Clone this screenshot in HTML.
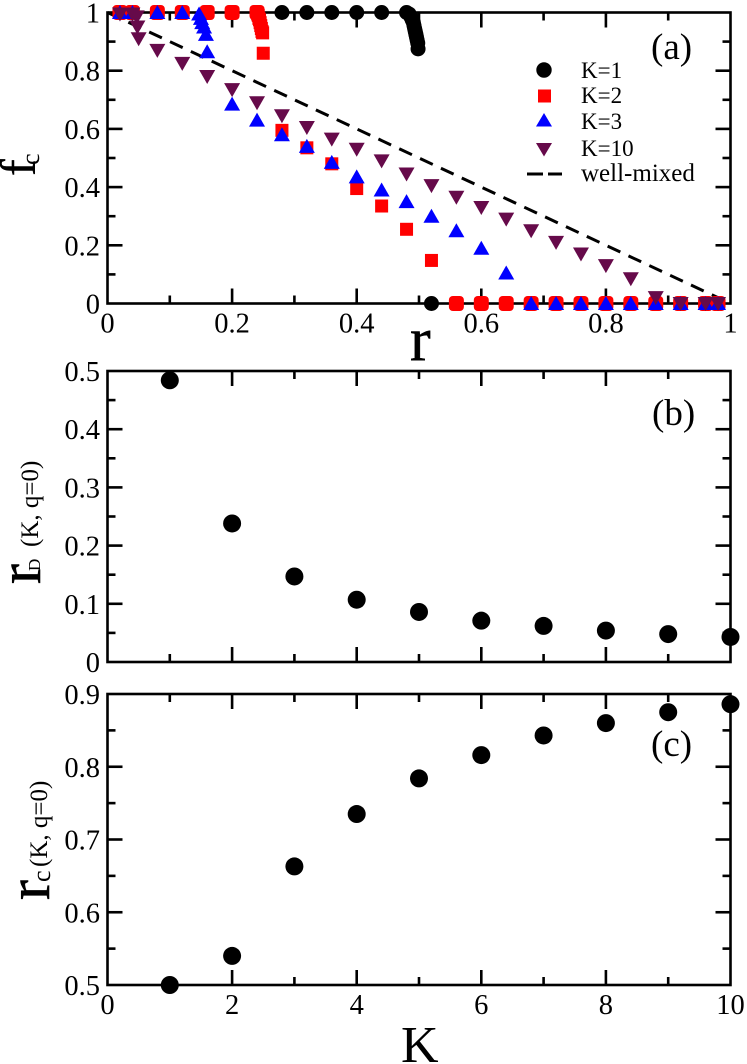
<!DOCTYPE html>
<html>
<head>
<meta charset="utf-8">
<title>Three panel chart</title>
<style>
html,body{margin:0;padding:0;background:#fff;width:747px;height:1064px;overflow:hidden}
svg{display:block}
text{font-family:"Liberation Serif",serif;fill:#000}
</style>
</head>
<body>
<svg id="chart" width="747" height="1064" viewBox="0 0 747 1064" xmlns="http://www.w3.org/2000/svg">
  <g id="frames"></g>
  <g id="marks"></g>

  <text x="651" y="59" font-size="37">(a)</text>
  <text x="652" y="425" font-size="37">(b)</text>
  <text x="651" y="756" font-size="37">(c)</text>

  <g>
    <circle cx="544" cy="70" r="7.7" fill="#000"/>
    <rect x="538" y="89.5" width="13" height="13" fill="#ff0000"/>
    <polygon points="544,113 552,126.5 536,126.5" fill="#0000ff"/>
    <polygon points="536,143 552,143 544,156.5" fill="#660a4a"/>
    <line x1="527" y1="174" x2="562" y2="174" stroke="#000" stroke-width="3" stroke-dasharray="16 5"/>
    <text x="581" y="78" font-size="23">K=1</text>
    <text x="581" y="103" font-size="23">K=2</text>
    <text x="581" y="129" font-size="23">K=3</text>
    <text x="581" y="156" font-size="23">K=10</text>
    <text x="581" y="181" font-size="25">well-mixed</text>
  </g>

  <text x="410" y="360" font-size="62" stroke="#000" stroke-width="0.5">r</text>
  <text x="401" y="1062" font-size="52">K</text>

  <g transform="translate(35,176) rotate(-90)">
    <text x="0" y="0" font-size="50" stroke="#000" stroke-width="0.5">f</text>
    <text x="11" y="4" font-size="26">c</text>
  </g>
  <g transform="translate(40,584) rotate(-90)">
    <text x="0" y="0" font-size="60" stroke="#000" stroke-width="0.6">r</text>
    <text x="13" y="0" font-size="17">D</text>
    <text x="37" y="-2" font-size="25">(K, q=0)</text>
  </g>
  <g transform="translate(49,900) rotate(-90)">
    <text x="0" y="0" font-size="60" stroke="#000" stroke-width="0.6">r</text>
    <text x="18" y="1" font-size="26">c</text>
    <text x="33" y="-2" font-size="25">(K, q=0)</text>
  </g>
</svg>
<script>
// Panel (a) values
const k1R = [0.28,0.32,0.36,0.40,0.44,0.48,0.484,0.487,0.489,0.491,0.492,0.493,0.494,0.495,0.496,0.497,0.498,0.4985,0.52];
const k1F = [1,1,1,1,1,1,0.995,0.985,0.975,0.965,0.955,0.945,0.935,0.925,0.915,0.905,0.895,0.875,0];
const k2R = [0.02,0.04,0.08,0.12,0.16,0.20,0.24,0.241,0.242,0.243,0.244,0.245,0.246,0.247,0.248,0.249,0.25,0.28,0.32,0.36,0.40,0.44,0.48,0.52,0.56,0.60,0.64,0.68,0.72,0.76,0.80,0.84,0.88,0.92,0.96,0.98];
const k2F = [1,1,1,1,1,1,1,0.995,0.99,0.98,0.975,0.965,0.955,0.945,0.935,0.93,0.86,0.595,0.535,0.48,0.395,0.335,0.255,0.148,0,0,0,0,0,0,0,0,0,0,0,0];
const k3R = [0.02,0.04,0.08,0.12,0.147,0.15,0.152,0.155,0.158,0.16,0.20,0.24,0.28,0.32,0.36,0.40,0.44,0.48,0.52,0.56,0.60,0.64,0.68,0.72,0.76,0.80,0.84,0.88,0.92,0.96,0.98];
const k3F = [1,1,1,1,0.995,0.98,0.965,0.95,0.925,0.865,0.685,0.63,0.58,0.54,0.485,0.435,0.39,0.35,0.30,0.25,0.19,0.105,0,0,0,0,0,0,0,0,0];
const k10R = [0.02,0.04,0.047,0.048,0.05,0.08,0.12,0.16,0.20,0.24,0.28,0.32,0.36,0.40,0.44,0.48,0.52,0.56,0.60,0.64,0.68,0.72,0.76,0.80,0.84,0.88,0.92,0.96,0.98];
const k10F = [0.995,0.995,0.985,0.95,0.91,0.87,0.825,0.78,0.735,0.69,0.645,0.605,0.565,0.53,0.49,0.445,0.405,0.365,0.33,0.29,0.25,0.21,0.17,0.13,0.085,0.02,0,0,0];
const wellMixedR = [0,0.99];
const wellMixedF = [1,0.01];

// Panels (b) and (c) values
const kValues = [1,2,3,4,5,6,7,8,9,10];
const rDValues = [0.484,0.238,0.147,0.107,0.086,0.071,0.062,0.054,0.048,0.043];
const rCValues = [0.5,0.54,0.663,0.735,0.784,0.816,0.843,0.86,0.875,0.886];

// Tick labels
const xTicksA = ["0","0.2","0.4","0.6","0.8","1"];
const yTicksA = ["0","0.2","0.4","0.6","0.8","1"];
const yTicksB = ["0","0.1","0.2","0.3","0.4","0.5"];
const xTicksC = ["0","2","4","6","8","10"];
const yTicksC = ["0.5","0.6","0.7","0.8","0.9"];

const NS = "http://www.w3.org/2000/svg";
const frames = document.getElementById("frames");
const marks = document.getElementById("marks");
const LEFT = 107.5, RIGHT = 730.5;

function make(tag, attrs, parent) {
  const el = document.createElementNS(NS, tag);
  for (const key in attrs) el.setAttribute(key, attrs[key]);
  parent.appendChild(el);
  return el;
}
function scale(d0, d1, p0, p1) {
  return function (v) { return p0 + (v - d0) / (d1 - d0) * (p1 - p0); };
}
function drawTick(x1, y1, x2, y2) {
  const t = make("line", {x1: x1, y1: y1, x2: x2, y2: y2, stroke: "#000", "stroke-width": 2.6}, frames);
  
  
}
function drawPanel(name, xs, ys, xLabels, yLabels) {
  const box = make("rect", {x: LEFT, y: ys(ys.max), width: RIGHT - LEFT, height: ys(ys.min) - ys(ys.max), fill: "none", stroke: "#000", "stroke-width": 2.6}, frames);
  
  
  const top = ys(ys.max), bottom = ys(ys.min);
  const nx = xLabels.length - 1, ny = yLabels.length - 1;
  for (let i = 1; i < nx * 2; i++) {
    const v = xs.min + (xs.max - xs.min) * i / (nx * 2);
    const len = i % 2 === 0 ? 15 : 8;
    drawTick(xs(v), bottom, xs(v), bottom - len);
    drawTick(xs(v), top, xs(v), top + len);
  }
  for (let i = 1; i < ny * 2; i++) {
    const v = ys.min + (ys.max - ys.min) * i / (ny * 2);
    const len = i % 2 === 0 ? 15 : 8;
    drawTick(LEFT, ys(v), LEFT + len, ys(v));
    drawTick(RIGHT, ys(v), RIGHT - len, ys(v));
  }
  yLabels.forEach(function (label, i) {
    const v = ys.min + (ys.max - ys.min) * i / ny;
    const t = make("text", {x: 100, y: ys(v) + 10, "font-size": 28.5, "text-anchor": "end"}, frames);
    
    
    t.textContent = label;
  });
  if (xLabels.showLabels !== false) {
    xLabels.forEach(function (label, i) {
      const v = xs.min + (xs.max - xs.min) * i / nx;
      const t = make("text", {x: xs(v), y: bottom + 29, "font-size": 28.5, "text-anchor": "middle"}, frames);
      
      
      t.textContent = label;
    });
  }
}
function axis(d0, d1, p0, p1) {
  const f = scale(d0, d1, p0, p1);
  f.min = d0;
  f.max = d1;
  return f;
}

const xA = axis(0, 1, LEFT, RIGHT);
const yA = axis(0, 1, 303.5, 12.5);
const xB = axis(0, 10, LEFT, RIGHT);
const yB = axis(0, 0.5, 662, 371);
const xC = axis(0, 10, LEFT, RIGHT);
const yC = axis(0.5, 0.9, 985, 694);

drawPanel("panel-a", xA, yA, xTicksA, yTicksA);
const noLabelsB = xTicksC.slice();
noLabelsB.showLabels = false;
drawPanel("panel-b", xB, yB, noLabelsB, yTicksB);
drawPanel("panel-c", xC, yC, xTicksC, yTicksC);

// well-mixed reference line
const well = make("line", {x1: xA(wellMixedR[0]), y1: yA(wellMixedF[0]), x2: xA(wellMixedR[1]), y2: yA(wellMixedF[1]), stroke: "#000", "stroke-width": 3, "stroke-dasharray": "14 9"}, marks);



// K=1 circles
k1R.forEach(function (r, i) {
  const c = make("circle", {cx: xA(r), cy: yA(k1F[i]), r: 7.5, fill: "#000"}, marks);
  
  
});
// K=2 squares (saturated values look rounded because they overlap K=1 discs)
k2R.forEach(function (r, i) {
  const sat = k2F[i] === 1 || k2F[i] === 0;
  const s = sat ? 15 : 13;
  const q = make("rect", {x: xA(r) - s / 2, y: yA(k2F[i]) - s / 2, width: s, height: s, rx: sat ? 4 : 0, fill: "#ff0000"}, marks);
  
  
});
// K=3 triangles
k3R.forEach(function (r, i) {
  const x = xA(r), y = yA(k3F[i]);
  const p = make("polygon", {points: (x) + "," + (y - 7.5) + " " + (x + 8) + "," + (y + 6.5) + " " + (x - 8) + "," + (y + 6.5), fill: "#0000ff"}, marks);
  
  
});
// K=10 inverted triangles
k10R.forEach(function (r, i) {
  const x = xA(r), y = yA(k10F[i]);
  const p = make("polygon", {points: (x - 8) + "," + (y - 6.5) + " " + (x + 8) + "," + (y - 6.5) + " " + (x) + "," + (y + 7.5), fill: "#660a4a"}, marks);
  
  
});
// panel b
kValues.forEach(function (k, i) {
  const c = make("circle", {cx: xB(k), cy: yB(rDValues[i]), r: 9, fill: "#000"}, marks);
  
  
});
// panel c
kValues.forEach(function (k, i) {
  const c = make("circle", {cx: xC(k), cy: yC(rCValues[i]), r: 9, fill: "#000"}, marks);
  
  
});
</script>
</body>
</html>
